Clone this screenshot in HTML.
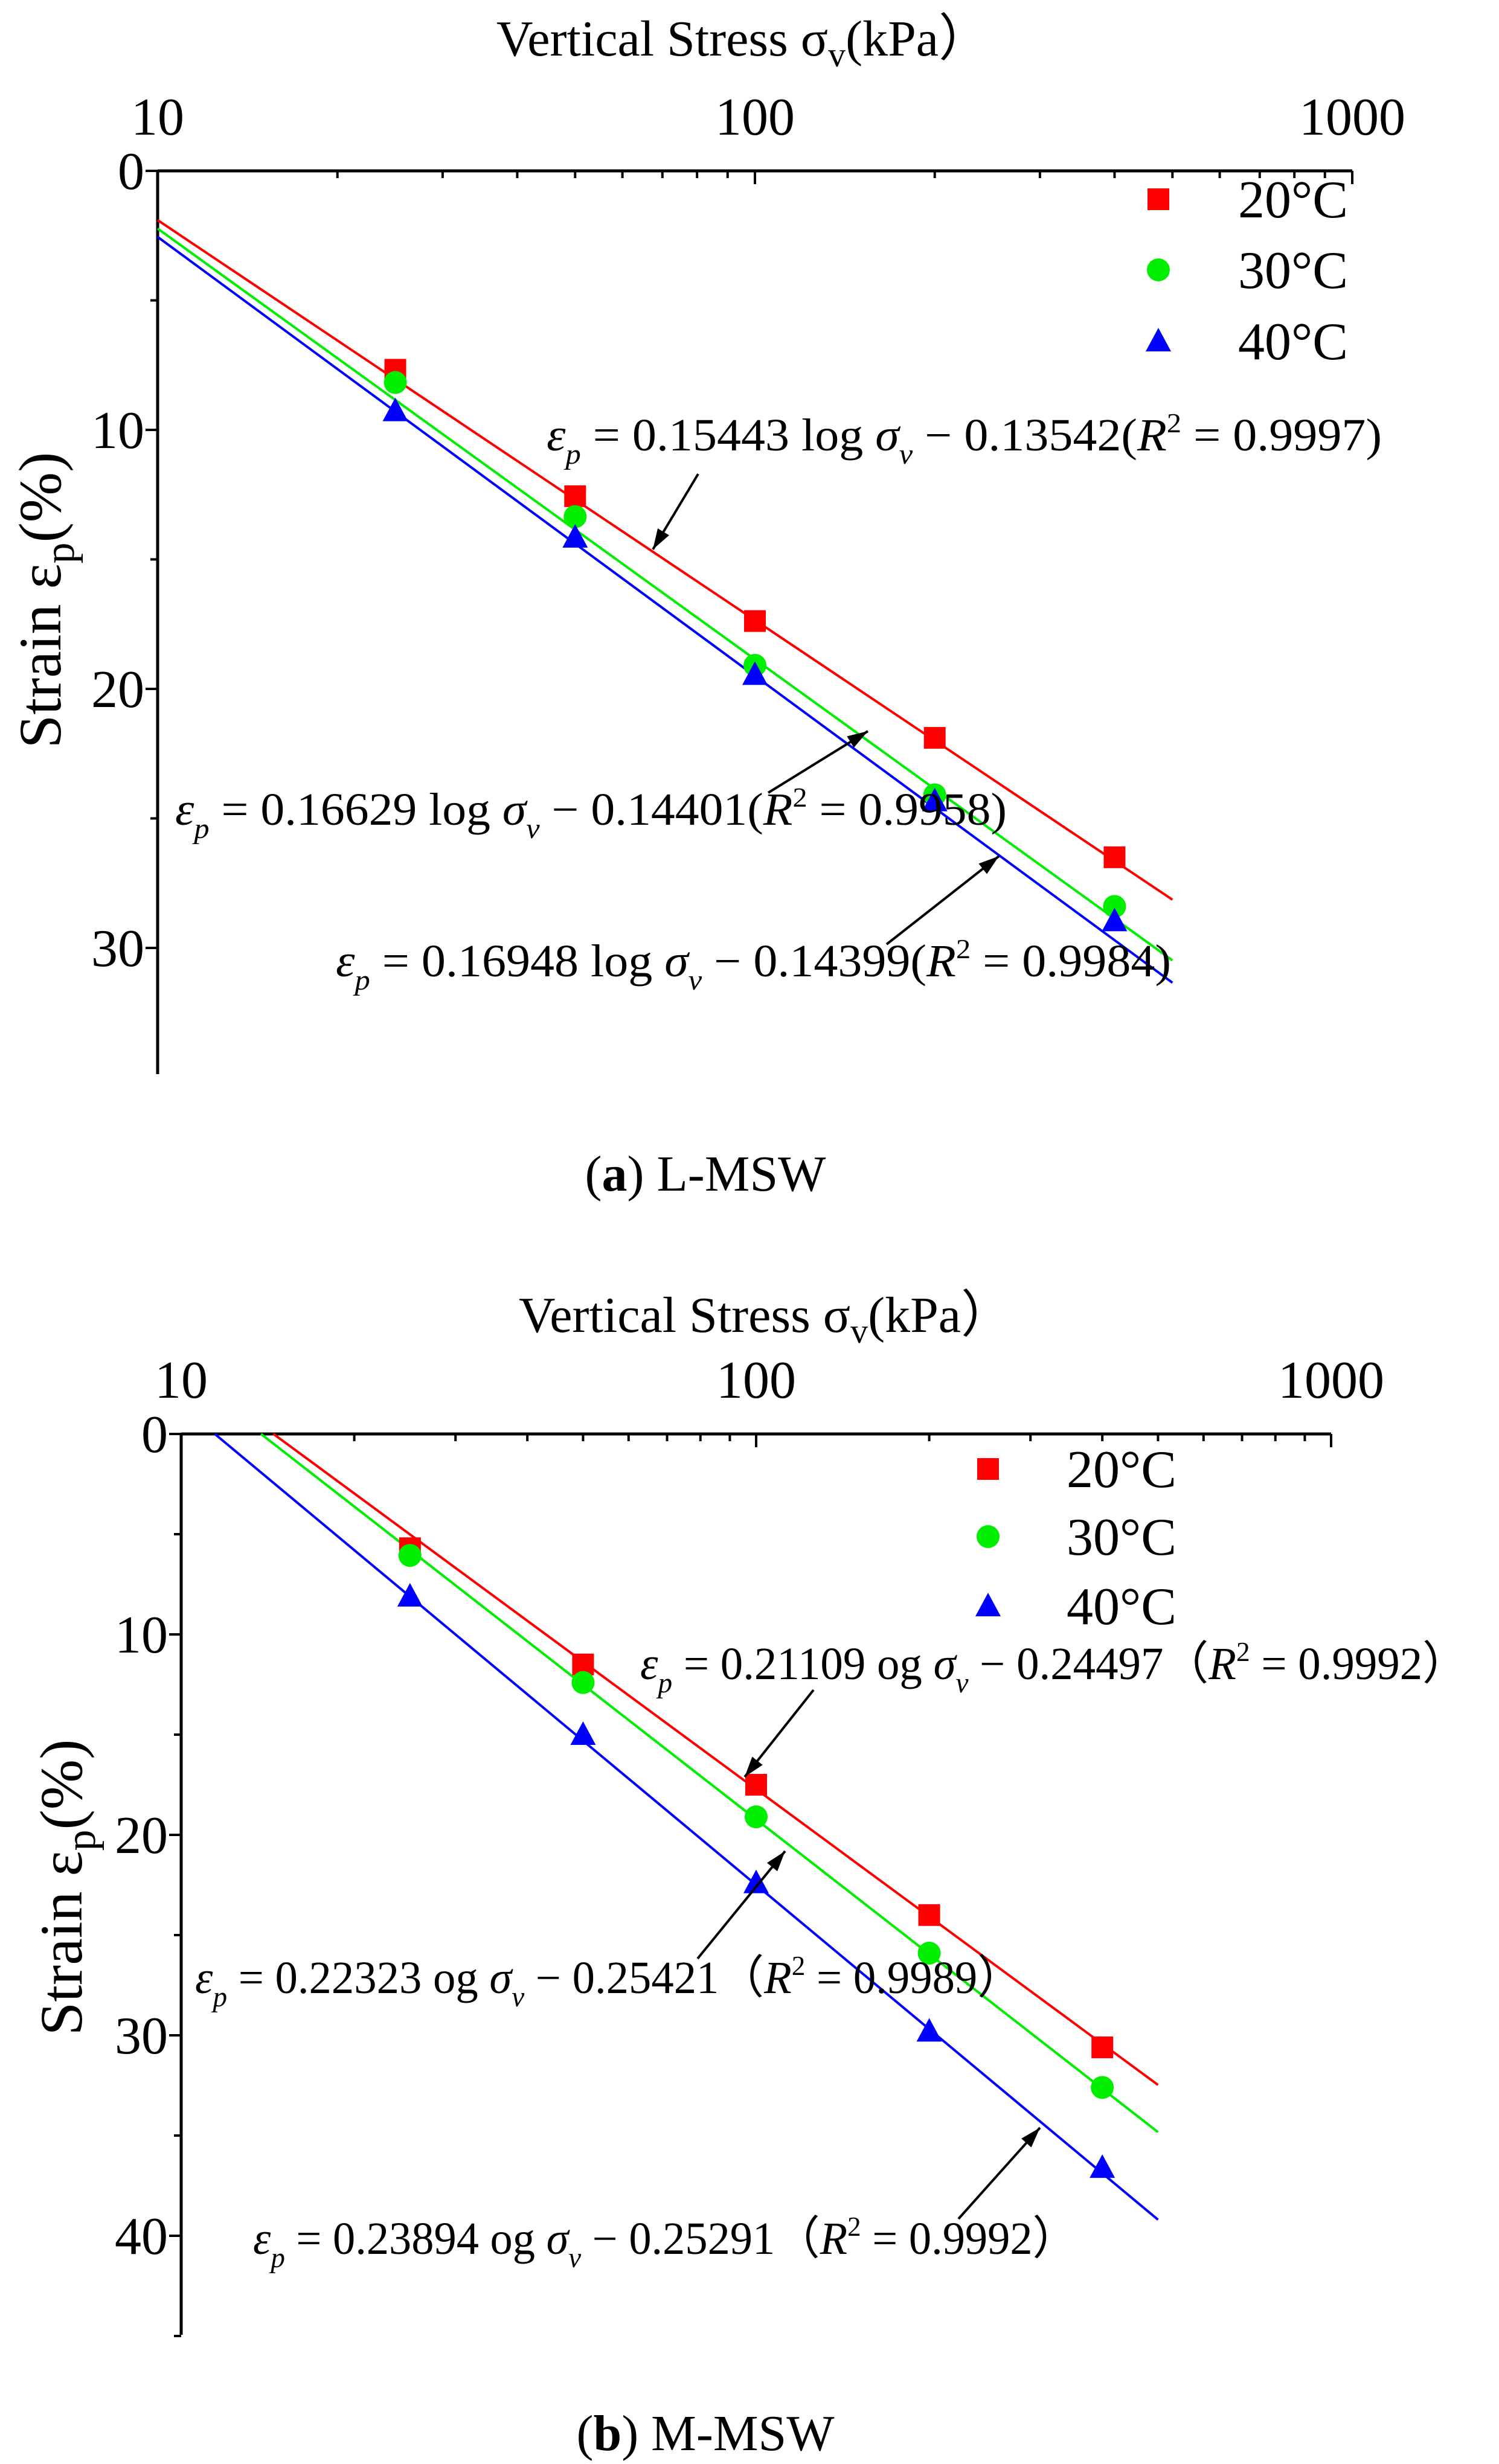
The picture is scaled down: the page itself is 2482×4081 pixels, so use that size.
<!DOCTYPE html>
<html><head><meta charset="utf-8">
<style>
html,body{margin:0;padding:0;background:#fff;}
svg{display:block;}
text{font-family:"Liberation Serif",serif;fill:#000;}
</style></head>
<body>
<svg id="s" xmlns="http://www.w3.org/2000/svg" width="2482" height="4081" viewBox="0 0 2482 4081"></svg>
<script>
const S=document.getElementById('s');const NS='http://www.w3.org/2000/svg';
function el(t,a,txt){const e=document.createElementNS(NS,t);for(const k in a)e.setAttribute(k,a[k]);if(txt!==undefined)e.textContent=txt;S.appendChild(e);return e;}
function txt(x,y,s,size,opt){opt=opt||{};const a={x:x,y:y,'font-size':size};if(opt.anchor)a['text-anchor']=opt.anchor;if(opt.len){a.textLength=opt.len;a.lengthAdjust='spacingAndGlyphs';}if(opt.family)a['font-family']=opt.family;if(opt.weight)a['font-weight']=opt.weight;if(opt.tr)a.transform=opt.tr;return el('text',a,s);}
function eqText(x,y,len,coef,inter,r2,og,paren){
  const t=el('text',{x:x,y:y,'font-size':76,textLength:len,lengthAdjust:'spacingAndGlyphs'});
  function sp(s,a){const e=document.createElementNS(NS,'tspan');for(const k in (a||{}))e.setAttribute(k,a[k]);e.textContent=s;t.appendChild(e);}
  sp('ε',{'font-style':'italic'});sp('p',{'font-style':'italic','font-size':48,dy:22});
  sp(' = '+coef+(og?' og ':' log '),{dy:-22});sp('σ',{'font-style':'italic'});sp('v',{'font-style':'italic','font-size':48,dy:22});
  sp(' − '+inter+(paren?'(':'（'),{dy:-22});sp('R',{'font-style':'italic'});sp('2',{'font-size':46,dy:-30});
  sp(' = '+r2+(paren?')':'）'),{dy:30});
}
function arrow(x1,y1,x2,y2){
  el('line',{x1:x1,y1:y1,x2:x2,y2:y2,stroke:'#000','stroke-width':4});
  const a=Math.atan2(y2-y1,x2-x1),L=34,W=11;
  const bx=x2-L*Math.cos(a),by=y2-L*Math.sin(a);
  el('polygon',{points:`${x2},${y2} ${bx+W*Math.sin(a)},${by-W*Math.cos(a)} ${bx-W*Math.sin(a)},${by+W*Math.cos(a)}`,fill:'#000'});
}
function panel(P){
  const X=v=>P.x10+P.dec*Math.log10(v/10), Y=e=>P.y0+e*P.per;
  el('line',{x1:P.x10,y1:P.y0,x2:P.x10+2*P.dec,y2:P.y0,stroke:'#000','stroke-width':5});
  el('line',{x1:P.x10,y1:P.y0,x2:P.x10,y2:P.ybot,stroke:'#000','stroke-width':5});
  for(let d=0;d<2;d++)for(let m=1;m<=10;m++){const v=10*Math.pow(10,d)*m;const x=X(v);const major=(m==1||m==10);
    el('line',{x1:x,y1:P.y0,x2:x,y2:P.y0+(major?22:12),stroke:'#000','stroke-width':4});}
  [10,100,1000].forEach(v=>txt(X(v),P.y0-60,String(v),88,{anchor:'middle'}));
  for(let e=0;e*P.per+P.y0<=P.ybot+2;e+=5){const y=Y(e);el('line',{x1:P.x10-(e%10==0?20:12),y1:y,x2:P.x10,y2:y,stroke:'#000','stroke-width':4});
    if(e%10==0)txt(P.x10-22,y+30,String(e),88,{anchor:'end'});}
  const t=el('text',{x:P.tx,y:P.ty,'font-size':84,'text-anchor':'middle'});
  t.innerHTML='Vertical Stress σ<tspan font-size="58" dy="18">v</tspan><tspan dy="-18">(kPa）</tspan>';
  const yl=el('text',{x:0,y:0,'font-size':100,'font-family':'Liberation Sans,sans-serif','text-anchor':'middle',transform:`translate(${P.ylx},${P.yly}) rotate(-90)`});
  yl.innerHTML='Strain ε<tspan font-size="70" dy="22">p</tspan><tspan dy="-22">(%)</tspan>';
  const cols=['#ff0000','#00ee00','#0000ff'];
  P.fits.forEach((f,i)=>{const x1v=Math.max(10,Math.pow(10,-f[1]/f[0]));const x2v=500;
    el('line',{x1:X(x1v),y1:Y(f[0]*Math.log10(x1v)+f[1]),x2:X(x2v),y2:Y(f[0]*Math.log10(x2v)+f[1]),stroke:cols[i],'stroke-width':4});});
  const xs=[25,50,100,200,400];
  function mk(i,x,y){if(i==0)el('rect',{x:x-18,y:y-18,width:36,height:36,fill:cols[0]});
    else if(i==1)el('circle',{cx:x,cy:y,r:19,fill:cols[1]});
    else el('polygon',{points:`${x},${y-22} ${x-21},${y+17} ${x+21},${y+17}`,fill:cols[2]});}
  P.pts.forEach((arr,i)=>arr.forEach((e,j)=>mk(i,X(xs[j]),Y(e))));
  ['20°C','30°C','40°C'].forEach((s,i)=>{mk(i,P.lx,P.ly[i]);txt(P.ltx,P.ly[i]+30,s,88);});
  P.eqs.forEach(q=>{eqText(q[0],q[1],q[2],q[3],q[4],q[5],P.og,P.paren);arrow(...q[6]);});
  const c=el('text',{x:P.cx,y:P.cy,'font-size':84,'text-anchor':'middle'});
  c.innerHTML='(<tspan font-weight="bold">'+P.cl+'</tspan>) '+P.ct;
}
panel({x10:261,dec:989,y0:283,per:42.9,ybot:1779,tx:1230,ty:92,ylx:100,yly:994,
  fits:[[15.443,-13.542],[16.629,-14.401],[16.948,-14.399]],
  pts:[[7.68,12.56,17.38,21.89,26.5],[8.17,13.35,19.09,24.09,28.4],[9.27,14.15,19.45,24.33,28.96]],
  lx:1918,ly:[330,447,565],ltx:2050,og:false,paren:true,
  eqs:[[905,746,1383,'0.15443','0.13542','0.9997',[1156,785,1081,910]],
       [290,1366,1377,'0.16629','0.14401','0.9958',[1272,1313,1437,1211]],
       [556,1617,1383,'0.16948','0.14399','0.9984',[1468,1564,1654,1418]]],
  cx:1168,cy:1972,cl:'a',ct:'L-MSW'});
panel({x10:300,dec:952,y0:2375,per:33.2,ybot:3867,tx:1267,ty:2206,ylx:135,yly:3126,
  fits:[[21.109,-24.497],[22.323,-25.421],[23.894,-25.291]],
  pts:[[5.7,11.5,17.5,24.0,30.6],[6.06,12.4,19.1,25.9,32.6],[8.1,15.0,22.4,29.8,36.6]],
  lx:1636,ly:[2433,2545,2660],ltx:1766,og:true,paren:false,
  eqs:[[1060,2781,1370,'0.21109','0.24497','0.9992',[1347,2799,1233,2943]],
       [323,3301,1370,'0.22323','0.25421','0.9989',[1155,3244,1300,3066]],
       [419,3733,1365,'0.23894','0.25291','0.9992',[1587,3675,1722,3524]]],
  cx:1168,cy:4058,cl:'b',ct:'M-MSW'});
</script>
</body></html>
